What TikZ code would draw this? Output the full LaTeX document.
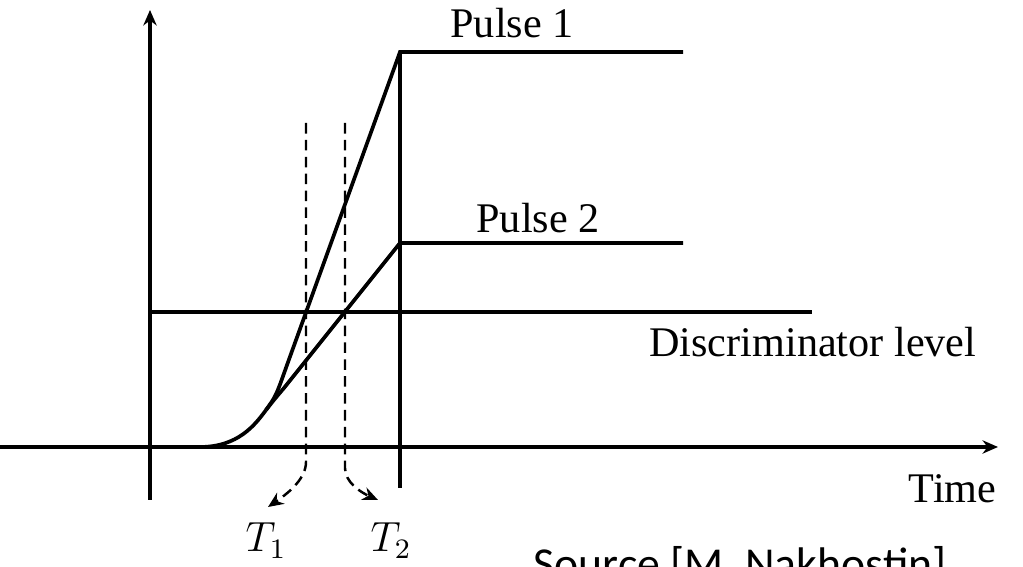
\documentclass[tikz,border=0pt]{standalone}
\usepackage{fontspec}
\setmainfont{Liberation Serif}
\newfontfamily\srcfont{Carlito}
\usetikzlibrary{arrows.meta,calc,positioning}

\begin{document}
\begin{tikzpicture}[x=0.01cm,y=-0.01cm,>={Stealth[length=4.4pt,width=3.8pt]},
    axis/.style={line width=0.95pt},
    pulse/.style={line width=1.05pt},
    level/.style={line width=0.9pt},
    marker/.style={line width=0.7pt,dash pattern=on 3pt off 1.8pt},
    lbl/.style={font=\fontsize{12}{14}\selectfont,inner sep=0pt}]
  \useasboundingbox (0,0) rectangle (1023,567);
  % axes
  \coordinate (origin) at (150,447);
  \coordinate (xend) at (998,447);
  \coordinate (xstart) at (0,447);
  \coordinate (yend) at (150,10);
  \coordinate (ystart) at (150,500);
  \draw[axis,->] (xstart) -- (xend);
  \draw[axis,->] (ystart) -- (yend);
  % pulses
  \coordinate (foot) at (200,447);
  \coordinate (split) at (266,410);
  \coordinate (peak1) at (400,52);
  \coordinate (peak2) at (400,243);
  \coordinate (end1) at (683,52);
  \coordinate (end2) at (683,243);
  \coordinate (stop) at (400,488);
  \draw[pulse] (origin) -- (foot) .. controls (238,447) and (255,425) .. (split);
  \draw[pulse] (split) .. controls (276,396) .. (287,365) -- (peak1) -- (end1);
  \draw[pulse] (split) .. controls (273,401) .. (284,388) -- (peak2) -- (end2);
  \draw[pulse,line width=1.3pt] (peak1) -- (stop);
  % discriminator
  \coordinate (lvlA) at (150,312);
  \coordinate (lvlB) at (812,312);
  \draw[level] (lvlA) -- (lvlB);
  % labels
  \node[lbl,anchor=base] (p1) at (512,38) {Pulse 1};
  \node[lbl,anchor=base] (p2) at (538,233) {Pulse 2};
  \node[lbl,anchor=base east] (disc) at (977,357) {Discriminator level};
  \node[lbl,anchor=base east] (time) at (997,503) {Time};
  \node[lbl,anchor=base] (t1) at (266,552) {$T_1$};
  \node[lbl,anchor=base] (t2) at (391,552) {$T_2$};
  % crossing times
  \coordinate (c1top) at (306,123);
  \coordinate (c1bot) at (306,462);
  \coordinate (c1tip) at (268,507);
  \coordinate (c2top) at (345,123);
  \coordinate (c2bot) at (345,468);
  \coordinate (c2tip) at (378,500);
  \draw[marker,->] (c1top) -- (c1bot) .. controls (306,478) and (290,492) .. (c1tip);
  \draw[marker,->] (c2top) -- (c2bot) .. controls (345,482) and (360,492) .. (c2tip);
  % source
  \node[anchor=base west,inner sep=0pt,font=\srcfont\fontsize{13}{15}\selectfont] (src) at (533,580) {Source [M. Nakhostin]};
\end{tikzpicture}
\end{document}
